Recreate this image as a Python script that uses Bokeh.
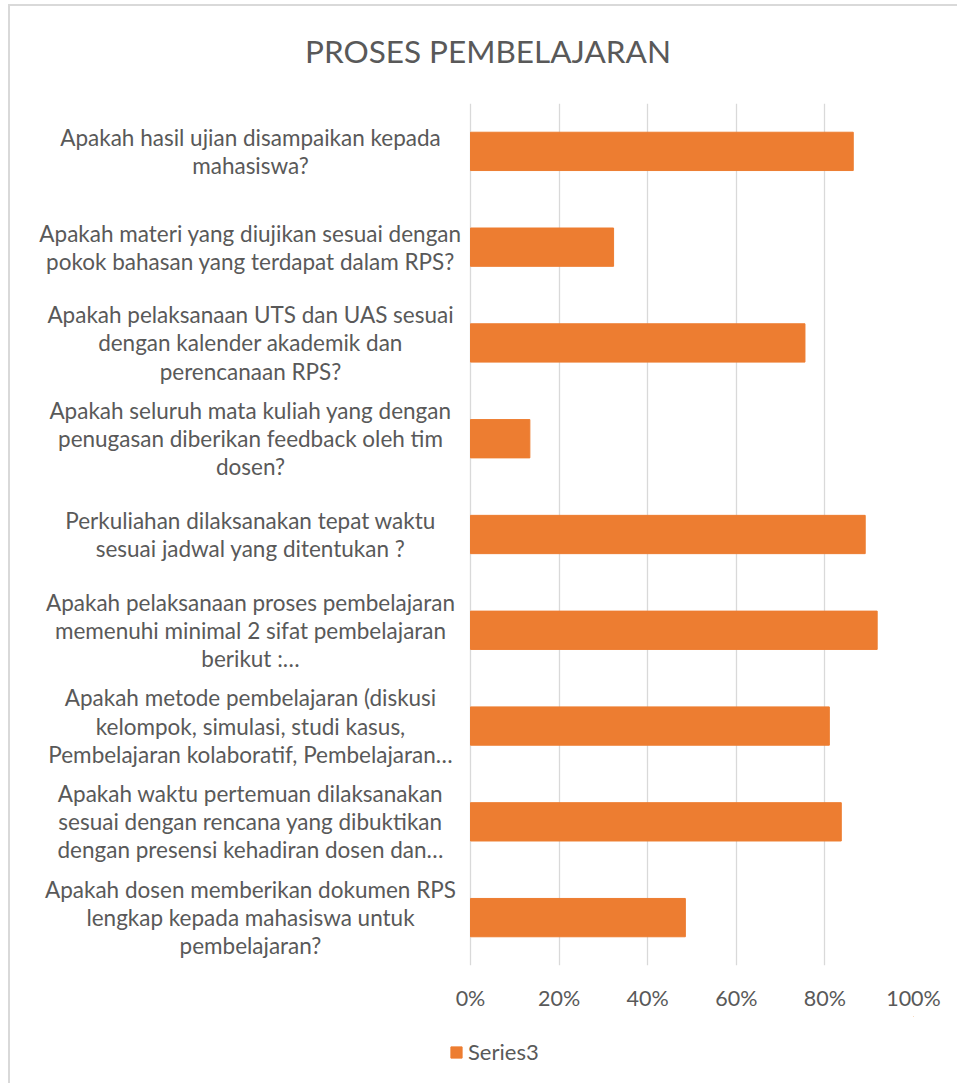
from bokeh.plotting import figure
from bokeh.layouts import column
from bokeh.models import (ColumnDataSource, FactorRange, Range1d, FixedTicker,
                          NumeralTickFormatter, Legend, LegendItem, Label)
from bokeh.core.properties import value
from bokeh.embed import file_html
from bokeh.resources import INLINE

# ---- data ----
categories = [
    "Apakah hasil ujian disampaikan kepada\nmahasiswa?",
    "Apakah materi yang diujikan sesuai dengan\npokok bahasan yang terdapat dalam RPS?",
    "Apakah pelaksanaan UTS dan UAS sesuai\ndengan kalender akademik dan\nperencanaan RPS?",
    "Apakah seluruh mata kuliah yang dengan\npenugasan diberikan feedback oleh tim\ndosen?",
    "Perkuliahan dilaksanakan tepat waktu\nsesuai jadwal yang ditentukan ?",
    "Apakah pelaksanaan proses pembelajaran\nmemenuhi minimal 2 sifat pembelajaran\nberikut :…",
    "Apakah metode pembelajaran (diskusi\nkelompok, simulasi, studi kasus,\nPembelajaran kolaboratif, Pembelajaran…",
    "Apakah waktu pertemuan dilaksanakan\nsesuai dengan rencana yang dibuktikan\ndengan presensi kehadiran dosen dan…",
    "Apakah dosen memberikan dokumen RPS\nlengkap kepada mahasiswa untuk\npembelajaran?",
]
series3 = [0.864, 0.323, 0.755, 0.134, 0.891, 0.918, 0.810, 0.837, 0.485]
x_ticks = [0, 0.2, 0.4, 0.6, 0.8, 1.0]
series_name = "Series3"
title_text = "PROSES PEMBELAJARAN"

# ---- style / layout ----
FONT = "Lato"
TEXT_COLOR = "#595959"
BAR_COLOR = "#ED7D31"
GRID_COLOR = "#D9D9D9"
W = 947
H_TITLE = 97
H_MAIN = 913
H_LEG = 67
FRAME_RIGHT_PAD = 44
ZERO_PX = 460          # pixel position of 0% from the frame's left edge
frame_w = W - FRAME_RIGHT_PAD
x_start = -ZERO_PX / (frame_w - ZERO_PX)

# title strip
t = figure(width=W, height=H_TITLE, output_backend="svg", toolbar_location=None,
           x_range=Range1d(0, 1), y_range=Range1d(0, 1),
           min_border=0, outline_line_color=None)
t.axis.visible = False
t.grid.grid_line_color = None
t.add_layout(Label(x=477.5, y=53, x_units="screen", y_units="screen",
                   text=title_text, text_align="center", text_baseline="middle",
                   text_font=FONT, text_font_size="31.5px", text_color=TEXT_COLOR))

# main chart
src = ColumnDataSource(dict(cat=categories, val=series3))

p = figure(width=W, height=H_MAIN, output_backend="svg", toolbar_location=None,
           y_range=FactorRange(factors=list(reversed(categories))),
           x_range=Range1d(x_start, 1.0),
           min_border_left=0, min_border_right=FRAME_RIGHT_PAD,
           min_border_top=0, min_border_bottom=51)
p.outline_line_color = None
p.background_fill_color = "white"
p.border_fill_color = "white"

bars = p.hbar(y="cat", right="val", left=0, height=0.4, source=src,
              fill_color=BAR_COLOR, line_color=BAR_COLOR)

p.text(x=0, y="cat", text="cat", source=src, x_offset=-220,
       text_align="center", text_baseline="middle",
       text_font=value(FONT), text_font_size="22.5px", text_color=TEXT_COLOR,
       text_line_height=1.04)

p.yaxis.visible = False
p.ygrid.grid_line_color = None
p.xaxis.ticker = FixedTicker(ticks=x_ticks)
p.xgrid.ticker = FixedTicker(ticks=x_ticks)
p.xgrid.grid_line_color = GRID_COLOR
p.xgrid.grid_line_width = 1.3
p.xaxis.formatter = NumeralTickFormatter(format="0%")
p.xaxis.axis_line_color = None
p.xaxis.major_tick_line_color = None
p.xaxis.minor_tick_line_color = None
p.xaxis.major_tick_out = 0
p.xaxis.major_label_text_font = FONT
p.xaxis.major_label_text_font_size = "21.5px"
p.xaxis.major_label_text_color = TEXT_COLOR
p.xaxis.major_label_standoff = 19

# legend strip below the chart
q = figure(width=W, height=H_LEG, output_backend="svg", toolbar_location=None,
           x_range=Range1d(0, 1), y_range=Range1d(0, 1),
           min_border=0, outline_line_color=None)
q.axis.visible = False
q.grid.grid_line_color = None
q.border_fill_color = "white"
# swatch renderer kept outside the strip's visible range; only its legend entry shows
legend_src = ColumnDataSource(dict(y=[5], right=[5]))
leg_r = q.hbar(y="y", right="right", left=4, height=0.4, source=legend_src,
               fill_color=BAR_COLOR, line_color=BAR_COLOR)
legend = Legend(items=[LegendItem(label=series_name, renderers=[leg_r])],
                location=(439, 18), orientation="horizontal",
                label_text_font=FONT, label_text_font_size="22px",
                label_text_color=TEXT_COLOR, glyph_width=14, glyph_height=14,
                label_standoff=5, border_line_color=None,
                background_fill_alpha=0, margin=0, padding=0)
q.add_layout(legend, "center")

layout = column(t, p, q, spacing=0)
layout.styles = {"margin-left": "8px", "margin-top": "4px",
                 "border-left": "2px solid #D9D9D9", "border-top": "2px solid #D9D9D9"}

open("out.html", "w").write(file_html(layout, INLINE))
